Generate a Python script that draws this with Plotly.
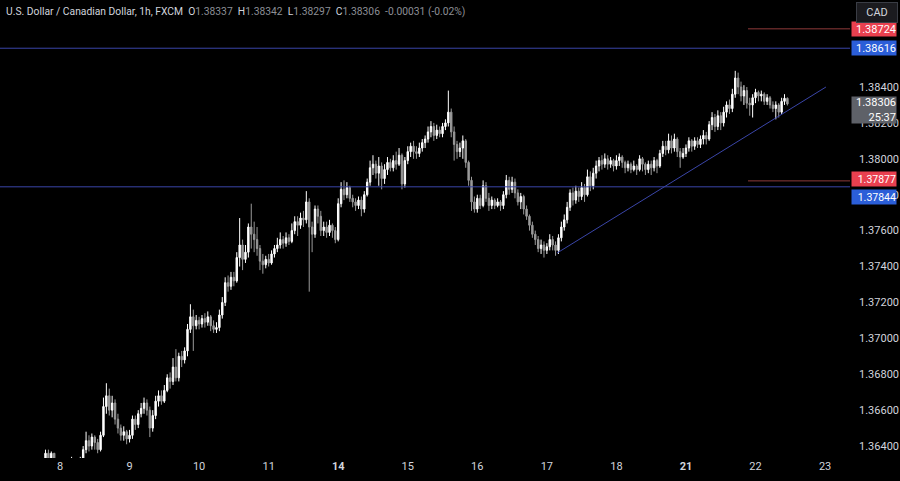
import plotly.graph_objects as go

# ---- data (1h candles, USD/CAD) ----
hours = list(range(-5, 252))
first_open = 1.3631
closes = [
    1.3636, 1.3633, 1.3636, 1.3628, 1.3626,
    1.3624, 1.3627, 1.3625, 1.3628, 1.3630, 1.3627, 1.3629, 1.3632, 1.3638, 1.3643, 1.3640, 1.3645,
    1.3642, 1.3638, 1.3646, 1.3662, 1.3668, 1.3660, 1.3664, 1.3655, 1.3650, 1.3646, 1.3648, 1.3644,
    1.3646, 1.3655, 1.3652, 1.3658, 1.3661, 1.3664, 1.3660, 1.3650, 1.3657, 1.3665, 1.3668, 1.3665,
    1.3671, 1.3678, 1.3676, 1.3684, 1.3678, 1.3690, 1.3688, 1.3693, 1.3705, 1.3712, 1.3707, 1.3710,
    1.3708, 1.3711, 1.3709, 1.3712, 1.3707, 1.3705, 1.3706, 1.3713, 1.3720, 1.3731, 1.3729, 1.3734,
    1.3732, 1.3745, 1.3752, 1.3744, 1.3748, 1.3762, 1.3758, 1.3755, 1.3750, 1.3743, 1.3741, 1.3744,
    1.3742, 1.3747, 1.3750, 1.3752, 1.3755, 1.3753, 1.3756, 1.3754, 1.3760, 1.3765, 1.3763, 1.3767,
    1.3766, 1.3776, 1.3762, 1.3758, 1.3772, 1.3768, 1.3760, 1.3762, 1.3759, 1.3763, 1.3760, 1.3755,
    1.3775, 1.3783, 1.3780, 1.3784, 1.3778, 1.3776, 1.3774, 1.3777, 1.3772, 1.3780, 1.3787, 1.3795,
    1.3797, 1.3792, 1.3796, 1.3789, 1.3794, 1.3798, 1.3795, 1.3799, 1.3797, 1.3802, 1.3786, 1.3799,
    1.3804, 1.3807, 1.3804, 1.3803, 1.3806, 1.3809, 1.3811, 1.3815, 1.3818, 1.3813, 1.3816, 1.3814,
    1.3818, 1.3820, 1.3826, 1.3815, 1.3808, 1.3804, 1.3806, 1.3810, 1.3798, 1.3788, 1.3776, 1.3772,
    1.3778, 1.3774, 1.3785, 1.3778, 1.3774, 1.3777, 1.3774, 1.3776, 1.3774, 1.3780, 1.3788, 1.3783,
    1.3787, 1.3781, 1.3776, 1.3779, 1.3772, 1.3768, 1.3763, 1.3758, 1.3755, 1.3750, 1.3752, 1.3749,
    1.3751, 1.3755, 1.3752, 1.3749, 1.3756, 1.3762, 1.3766, 1.3773, 1.3781, 1.3777, 1.3782, 1.3779,
    1.3784, 1.3780, 1.3790, 1.3785, 1.3792, 1.3796, 1.3799, 1.3797, 1.3800, 1.3797, 1.3799, 1.3796,
    1.3799, 1.3801, 1.3798, 1.3795, 1.3797, 1.3794, 1.3796, 1.3794, 1.3800, 1.3797, 1.3794, 1.3797,
    1.3795, 1.3799, 1.3796, 1.3803, 1.3807, 1.3805, 1.3810, 1.3806, 1.3811, 1.3804, 1.3801, 1.3803,
    1.3806, 1.3810, 1.3807, 1.3810, 1.3808, 1.3811, 1.3813, 1.3811, 1.3819, 1.3823, 1.3818, 1.3824,
    1.3820, 1.3826, 1.3830, 1.3828, 1.3836, 1.3845, 1.3840, 1.3835, 1.3838, 1.3831, 1.3830, 1.3834,
    1.3837, 1.3835, 1.3836, 1.3832, 1.3834, 1.3830, 1.3828, 1.3830, 1.3826, 1.3832, 1.38337, 1.38306,
]
highs = [
    1.3638, 1.3638, 1.3637, 1.3636, 1.3630,
    1.3628, 1.3629, 1.3629, 1.3630, 1.3634, 1.3631, 1.3631, 1.3634, 1.3640, 1.3648, 1.3646, 1.3647,
    1.3646, 1.3644, 1.3648, 1.3667, 1.3675, 1.3672, 1.3668, 1.3666, 1.3658, 1.3652, 1.3651, 1.3649,
    1.3649, 1.3657, 1.3657, 1.3660, 1.3664, 1.3667, 1.3666, 1.3662, 1.3660, 1.3668, 1.3671, 1.3671,
    1.3674, 1.3680, 1.3681, 1.3689, 1.3694, 1.3692, 1.3693, 1.3695, 1.3708, 1.3719, 1.3716, 1.3713,
    1.3712, 1.3713, 1.3714, 1.3715, 1.3713, 1.3710, 1.3709, 1.3716, 1.3723, 1.3734, 1.3735, 1.3737,
    1.3737, 1.3748, 1.3767, 1.3755, 1.3752, 1.3764, 1.3775, 1.3765, 1.3762, 1.3752, 1.3747, 1.3746,
    1.3747, 1.3749, 1.3752, 1.3756, 1.3759, 1.3757, 1.3759, 1.3758, 1.3764, 1.3768, 1.3768, 1.3770,
    1.3771, 1.3782, 1.3778, 1.3765, 1.3774, 1.3774, 1.3771, 1.3765, 1.3765, 1.3766, 1.3764, 1.3762,
    1.3778, 1.3787, 1.3788, 1.3787, 1.3785, 1.3780, 1.3778, 1.3779, 1.3779, 1.3782, 1.3789, 1.3799,
    1.3802, 1.3799, 1.3801, 1.3798, 1.3797, 1.3801, 1.3800, 1.3802, 1.3804, 1.3806, 1.3803, 1.3801,
    1.3807, 1.3809, 1.3810, 1.3807, 1.3809, 1.3811, 1.3813, 1.3818, 1.3821, 1.3820, 1.3819, 1.3818,
    1.3820, 1.3822, 1.3838, 1.3828, 1.3818, 1.3810, 1.3809, 1.3813, 1.3811, 1.3799, 1.3790, 1.3779,
    1.3780, 1.3780, 1.3788, 1.3787, 1.3781, 1.3779, 1.3778, 1.3778, 1.3777, 1.3782, 1.3791, 1.3790,
    1.3790, 1.3789, 1.3783, 1.3781, 1.3780, 1.3774, 1.3769, 1.3765, 1.3760, 1.3757, 1.3755, 1.3754,
    1.3753, 1.3758, 1.3757, 1.3754, 1.3758, 1.3765, 1.3769, 1.3776, 1.3783, 1.3784, 1.3785, 1.3784,
    1.3787, 1.3786, 1.3794, 1.3793, 1.3795, 1.3799, 1.3801, 1.3802, 1.3803, 1.3802, 1.3801, 1.3800,
    1.3802, 1.3803, 1.3802, 1.3799, 1.3799, 1.3798, 1.3799, 1.3797, 1.3802, 1.3801, 1.3798, 1.3799,
    1.3799, 1.3801, 1.3800, 1.3805, 1.3810, 1.3810, 1.3814, 1.3813, 1.3814, 1.3812, 1.3806, 1.3806,
    1.3808, 1.3812, 1.3811, 1.3812, 1.3812, 1.3813, 1.3816, 1.3815, 1.3821, 1.3826, 1.3825, 1.3827,
    1.3826, 1.3829, 1.3832, 1.3833, 1.3839, 1.3849, 1.3848, 1.3843, 1.3841, 1.3840, 1.3834, 1.3836,
    1.3839, 1.3838, 1.3838, 1.3837, 1.3836, 1.3835, 1.3832, 1.3832, 1.3831, 1.3834, 1.3836, 1.38342,
]
lows = [
    1.3630, 1.3630, 1.3629, 1.3625, 1.3622,
    1.3620, 1.3621, 1.3622, 1.3623, 1.3626, 1.3625, 1.3624, 1.3627, 1.3630, 1.3636, 1.3637, 1.3638,
    1.3638, 1.3636, 1.3637, 1.3645, 1.3658, 1.3657, 1.3656, 1.3652, 1.3647, 1.3643, 1.3643, 1.3641,
    1.3642, 1.3644, 1.3649, 1.3650, 1.3656, 1.3658, 1.3657, 1.3645, 1.3648, 1.3655, 1.3662, 1.3663,
    1.3664, 1.3670, 1.3672, 1.3674, 1.3676, 1.3676, 1.3684, 1.3686, 1.3690, 1.3703, 1.3693, 1.3705,
    1.3705, 1.3706, 1.3706, 1.3707, 1.3704, 1.3703, 1.3703, 1.3704, 1.3711, 1.3718, 1.3726, 1.3727,
    1.3729, 1.3731, 1.3740, 1.3738, 1.3742, 1.3745, 1.3750, 1.3748, 1.3746, 1.3738, 1.3736, 1.3739,
    1.3740, 1.3741, 1.3745, 1.3748, 1.3750, 1.3750, 1.3751, 1.3752, 1.3753, 1.3758, 1.3757, 1.3761,
    1.3762, 1.3764, 1.3726, 1.3748, 1.3756, 1.3764, 1.3757, 1.3757, 1.3756, 1.3757, 1.3756, 1.3753,
    1.3754, 1.3773, 1.3777, 1.3778, 1.3776, 1.3773, 1.3771, 1.3772, 1.3768, 1.3770, 1.3779, 1.3785,
    1.3791, 1.3789, 1.3785, 1.3783, 1.3786, 1.3791, 1.3793, 1.3793, 1.3794, 1.3796, 1.3783, 1.3784,
    1.3797, 1.3801, 1.3800, 1.3800, 1.3801, 1.3804, 1.3806, 1.3809, 1.3812, 1.3810, 1.3811, 1.3812,
    1.3812, 1.3816, 1.3818, 1.3812, 1.3799, 1.3800, 1.3801, 1.3800, 1.3795, 1.3785, 1.3771, 1.3770,
    1.3770, 1.3772, 1.3773, 1.3776, 1.3771, 1.3772, 1.3772, 1.3773, 1.3771, 1.3772, 1.3778, 1.3780,
    1.3781, 1.3778, 1.3774, 1.3772, 1.3769, 1.3766, 1.3760, 1.3756, 1.3752, 1.3748, 1.3747, 1.3745,
    1.3747, 1.3749, 1.3749, 1.3746, 1.3747, 1.3754, 1.3760, 1.3764, 1.3771, 1.3774, 1.3775, 1.3776,
    1.3777, 1.3776, 1.3779, 1.3782, 1.3783, 1.3789, 1.3793, 1.3794, 1.3795, 1.3794, 1.3795, 1.3793,
    1.3794, 1.3796, 1.3795, 1.3792, 1.3793, 1.3792, 1.3793, 1.3791, 1.3793, 1.3793, 1.3791, 1.3792,
    1.3791, 1.3793, 1.3792, 1.3795, 1.3801, 1.3802, 1.3803, 1.3803, 1.3804, 1.3801, 1.3795, 1.3800,
    1.3801, 1.3804, 1.3804, 1.3805, 1.3806, 1.3806, 1.3808, 1.3808, 1.3810, 1.3816, 1.3815, 1.3816,
    1.3816, 1.3818, 1.3823, 1.3825, 1.3826, 1.3834, 1.3836, 1.3832, 1.3830, 1.3828, 1.3824, 1.3823,
    1.3831, 1.3832, 1.3832, 1.3830, 1.3830, 1.3828, 1.3826, 1.3822, 1.3823, 1.3825, 1.3830, 1.38297,
]

day_tick_pos = [0, 24, 48, 72, 96, 120, 144, 168, 192, 216, 240, 264]
day_tick_labels = ["8", "9", "10", "11", "<b>14</b>", "15", "16", "17", "18", "<b>21</b>", "22", "23"]
price_ticks = [1.364, 1.366, 1.368, 1.370, 1.372, 1.374, 1.376, 1.378, 1.380, 1.382, 1.384]

level_blue = [1.38616, 1.37844]
level_red = [1.38724, 1.37877]
trend_start = (171.5, 1.37475)
trend_end = (264.3, 1.38400)
last_price = 1.38306
countdown = "25:37"

title_main = "U.S. Dollar / Canadian Dollar, 1h, FXCM"
ohlc_text = [("O", "1.38337"), ("H", "1.38342"), ("L", "1.38297"), ("C", "1.38306")]
change_text = "-0.00031 (-0.02%)"

# ---- build ----
opens = [first_open] + closes[:-1]
highs = [max(h, o, c) for h, o, c in zip(highs, opens, closes)]
lows = [min(l, o, c) for l, o, c in zip(lows, opens, closes)]

FONT = "Roboto, Liberation Sans, Arial, sans-serif"
TXT = "#d1d4dc"
BLUE = "#3a45a8"
RED = "#8e3a3a"

fig = go.Figure()
fig.add_trace(go.Candlestick(
    x=hours, open=opens, high=highs, low=lows, close=closes,
    increasing=dict(line=dict(color="#ffffff", width=1), fillcolor="#ffffff"),
    decreasing=dict(line=dict(color="#9a9a9a", width=1), fillcolor="#9a9a9a"),
    whiskerwidth=0, showlegend=False, hoverinfo="skip",
))

shapes = []
for lv in level_blue:
    shapes.append(dict(type="line", xref="paper", x0=0, x1=1, yref="y", y0=lv, y1=lv,
                       line=dict(color=BLUE, width=1), layer="above"))
for lv in level_red:
    shapes.append(dict(type="line", xref="paper", x0=0.88, x1=1, yref="y", y0=lv, y1=lv,
                       line=dict(color=RED, width=1), layer="above"))
shapes.append(dict(type="line", xref="x", yref="y", x0=trend_start[0], y0=trend_start[1],
                   x1=trend_end[0], y1=trend_end[1], line=dict(color=BLUE, width=1), layer="above"))

ann = []
def price_box(y, text, bg, yshift=0, height=14, size=11):
    ann.append(dict(xref="paper", yref="y", x=1, y=y, xanchor="left", yanchor="middle",
                    xshift=1, yshift=yshift, text=text, showarrow=False, align="right",
                    bgcolor=bg, width=44, height=height, borderpad=0,
                    font=dict(family=FONT, size=size, color="#ffffff")))

price_box(level_red[0], "1.38724", "#e9404f")
price_box(level_blue[0], "1.38616", "#2b5ed8")
price_box(level_red[1], "1.37877", "#e9404f", yshift=2, height=14, size=10.5)
price_box(level_blue[1], "1.37844", "#2b5ed8", yshift=-10, height=14, size=10.5)
price_box(last_price, f"{last_price:.5f}<br>{countdown}", "#5e6168", yshift=-6, height=26)

ann.append(dict(xref="paper", yref="paper", x=1, y=1, xanchor="left", yanchor="top",
                xshift=6, yshift=-2, text="CAD", showarrow=False, bgcolor="#1b1b1f",
                bordercolor="#3a3d45", borderwidth=1, borderpad=3, width=34,
                font=dict(family=FONT, size=11, color=TXT)))

parts = [f'<span style="color:{TXT}">{title_main}</span>']
for k, v in ohlc_text:
    parts.append(f'<span style="color:{TXT}">{k}</span><span style="color:#8c8f96">{v}</span>')
parts.append(f'<span style="color:#8c8f96">{change_text}</span>')
ann.append(dict(xref="paper", yref="paper", x=0, y=1, xanchor="left", yanchor="top",
                xshift=4, yshift=-3, text="   ".join(parts[:1]) + "  " + "  ".join(parts[1:]),
                showarrow=False, font=dict(family=FONT, size=10.3, color=TXT)))

fig.update_layout(
    width=900, height=481,
    margin=dict(l=0, r=50, t=0, b=23),
    paper_bgcolor="#000000", plot_bgcolor="#000000",
    shapes=shapes, annotations=ann,
    xaxis=dict(range=[-20.7, 272.6], tickvals=day_tick_pos, ticktext=day_tick_labels,
               showgrid=False, zeroline=False, showline=False, ticks="",
               rangeslider=dict(visible=False), fixedrange=True,
               tickfont=dict(family=FONT, size=11, color=TXT)),
    yaxis=dict(range=[1.363335, 1.388846], side="right", tickvals=price_ticks,
               ticktext=[f"{t:.5f}" for t in price_ticks],
               showgrid=False, zeroline=False, showline=False, ticks="",
               ticklabelstandoff=8, fixedrange=True,
               tickfont=dict(family=FONT, size=11, color=TXT)),
    font=dict(family=FONT, color=TXT),
)

fig.write_html(
    "out.html",
    config={"displayModeBar": False, "staticPlot": True},
    post_script="document.body.style.margin='0';document.body.style.background='#000';"
                "document.documentElement.style.background='#000';",
)
